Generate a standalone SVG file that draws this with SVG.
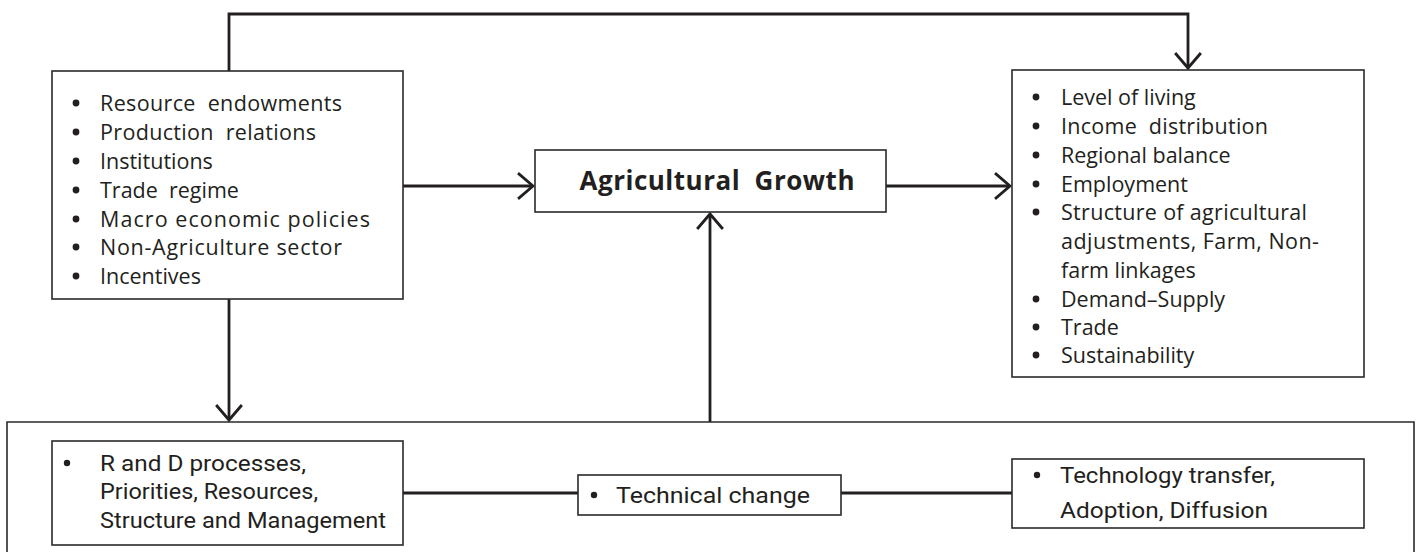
<svg xmlns="http://www.w3.org/2000/svg" width="1418" height="552" viewBox="0 0 1418 552">
  <style>
    .box { fill: #ffffff; stroke: #2b2a2a; stroke-width: 1.6; }
    .frame { fill: none; stroke: #2b2a2a; stroke-width: 1.6; }
    .wire { fill: none; stroke: #231f20; stroke-width: 2.8; }
    .link { fill: none; stroke: #231f20; stroke-width: 3.2; }
    .txt { font-family: "Open Sans", "Liberation Sans", sans-serif; font-size: 21.5px; fill: #231f20; }
    .sub { font-family: "Roboto", "Liberation Sans", sans-serif; font-size: 22px; fill: #231f20; }
    .title { font-family: "Open Sans", "Liberation Sans", sans-serif; font-size: 26px; font-weight: bold; fill: #231f20; }
    .dot { fill: #231f20; }
  </style>
  <defs>
    <marker id="open-arrow" markerUnits="userSpaceOnUse" markerWidth="30" markerHeight="30" viewBox="-16 -14 18 28" refX="0" refY="0" orient="auto">
      <path d="M -14 -12 L 0 0 L -14 12" fill="none" stroke="#231f20" stroke-width="2.6"/>
    </marker>
  </defs>

  <rect width="1418" height="552" fill="#ffffff"/>

  <!-- connectors -->
  <g id="connectors">
    <polyline class="wire" points="229,71 229,14 1188,14 1188,68" marker-end="url(#open-arrow)"/>
    <line class="wire" x1="403" y1="186" x2="533" y2="186" marker-end="url(#open-arrow)"/>
    <line class="wire" x1="886" y1="186" x2="1010" y2="186" marker-end="url(#open-arrow)"/>
    <line class="wire" x1="229" y1="299" x2="229" y2="420" marker-end="url(#open-arrow)"/>
    <line class="wire" x1="710" y1="422" x2="710" y2="214" marker-end="url(#open-arrow)"/>
    <line class="link" x1="403" y1="493" x2="578" y2="493"/>
    <line class="link" x1="841" y1="493" x2="1012" y2="493"/>
  </g>

  <!-- determinants -->
  <g id="determinants">
    <rect class="box" x="52" y="71" width="351" height="228"/>
    <g class="dot">
      <circle cx="76" cy="103" r="3.4"/>
      <circle cx="76" cy="132" r="3.4"/>
      <circle cx="76" cy="161" r="3.4"/>
      <circle cx="76" cy="190" r="3.4"/>
      <circle cx="76" cy="219" r="3.4"/>
      <circle cx="76" cy="247" r="3.4"/>
      <circle cx="76" cy="276" r="3.4"/>
    </g>
    <text class="txt" x="100" y="111" textLength="242" xml:space="preserve">Resource  endowments</text>
    <text class="txt" x="100" y="140" textLength="216" xml:space="preserve">Production  relations</text>
    <text class="txt" x="100" y="169">Institutions</text>
    <text class="txt" x="100" y="198" xml:space="preserve">Trade  regime</text>
    <text class="txt" x="100" y="227" textLength="270">Macro economic policies</text>
    <text class="txt" x="100" y="255" textLength="242">Non-Agriculture sector</text>
    <text class="txt" x="100" y="284">Incentives</text>
  </g>

  <!-- central outcome -->
  <g id="agricultural-growth">
    <rect class="box" x="535" y="150" width="351" height="62"/>
    <text class="title" x="717" y="190" text-anchor="middle" textLength="275" xml:space="preserve">Agricultural  Growth</text>
  </g>

  <!-- impacts -->
  <g id="impacts">
    <rect class="box" x="1012" y="70" width="352" height="307"/>
    <g class="dot">
      <circle cx="1036" cy="97" r="3.4"/>
      <circle cx="1036" cy="126" r="3.4"/>
      <circle cx="1036" cy="155" r="3.4"/>
      <circle cx="1036" cy="184" r="3.4"/>
      <circle cx="1036" cy="212" r="3.4"/>
      <circle cx="1036" cy="299" r="3.4"/>
      <circle cx="1036" cy="327" r="3.4"/>
      <circle cx="1036" cy="355" r="3.4"/>
    </g>
    <text class="txt" x="1061" y="105">Level of living</text>
    <text class="txt" x="1061" y="134" textLength="207" xml:space="preserve">Income  distribution</text>
    <text class="txt" x="1061" y="163">Regional balance</text>
    <text class="txt" x="1061" y="192">Employment</text>
    <text class="txt" x="1061" y="220" textLength="246">Structure of agricultural</text>
    <text class="txt" x="1061" y="249" textLength="258">adjustments, Farm, Non-</text>
    <text class="txt" x="1061" y="278">farm linkages</text>
    <text class="txt" x="1061" y="307">Demand–Supply</text>
    <text class="txt" x="1061" y="335">Trade</text>
    <text class="txt" x="1061" y="363">Sustainability</text>
  </g>

  <!-- technology frame -->
  <g id="technology">
    <path class="frame" d="M 7 553 L 7 422 L 1414 422 L 1414 553"/>
  </g>

  <g id="research">
    <rect class="box" x="52" y="441" width="351" height="104"/>
    <circle class="dot" cx="67" cy="463" r="3.2"/>
    <text class="sub" x="100" y="471" textLength="206" lengthAdjust="spacingAndGlyphs">R and D processes,</text>
    <text class="sub" x="100" y="499" textLength="218" lengthAdjust="spacingAndGlyphs">Priorities, Resources,</text>
    <text class="sub" x="100" y="528" textLength="286" lengthAdjust="spacingAndGlyphs">Structure and Management</text>
  </g>

  <g id="technical-change">
    <rect class="box" x="578" y="475" width="263" height="40"/>
    <circle class="dot" cx="594" cy="495" r="3.2"/>
    <text class="sub" x="616" y="503" textLength="194" lengthAdjust="spacingAndGlyphs">Technical change</text>
  </g>

  <g id="transfer">
    <rect class="box" x="1012" y="459" width="352" height="69"/>
    <circle class="dot" cx="1037" cy="475" r="3.2"/>
    <text class="sub" x="1060" y="483" textLength="215" lengthAdjust="spacingAndGlyphs">Technology transfer,</text>
    <text class="sub" x="1060" y="518" textLength="208" lengthAdjust="spacingAndGlyphs">Adoption, Diffusion</text>
  </g>
</svg>
